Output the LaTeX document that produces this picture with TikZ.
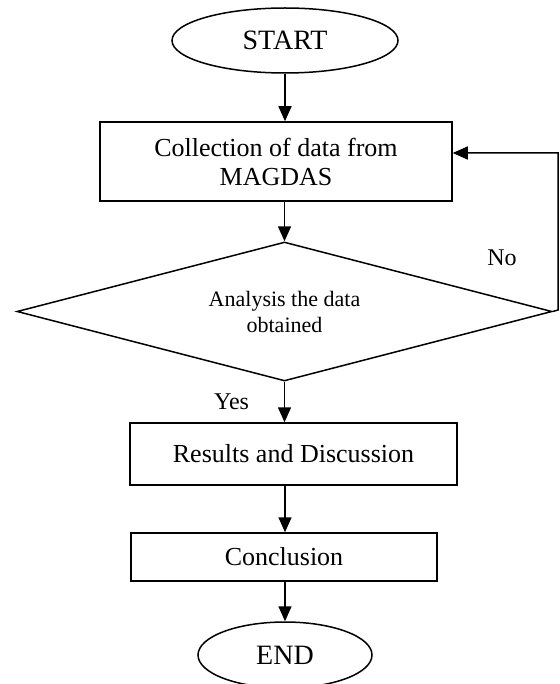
\documentclass[tikz,border=0pt]{standalone}
\usepackage{fontspec}
\setmainfont{Liberation Serif}
\usetikzlibrary{arrows.meta,positioning,shapes.geometric}

\begin{document}
\begin{tikzpicture}[x=0.5pt,y=-0.5pt,line width=0.75pt,>={Triangle[length=7.5pt,width=6.5pt]},
    term/.style={draw,ellipse,inner sep=0pt,font=\fontsize{14}{16}\selectfont},
    proc/.style={draw,rectangle,inner sep=0pt,align=center,font=\fontsize{13}{14.5}\selectfont},
    dec/.style={draw,diamond,inner sep=0pt,align=center,font=\fontsize{11}{13}\selectfont},
    lbl/.style={font=\fontsize{12}{14}\selectfont}]
  \useasboundingbox (0,0) rectangle (559,684);
  \node[term,minimum width=113pt,minimum height=32.5pt] (start) at (285,40.5) {START};
  \node[proc,minimum width=176pt,minimum height=39.5pt] (coll) at (276,161.5) {Collection of data from\\MAGDAS};
  \node[dec,minimum width=267.5pt,minimum height=69.5pt,aspect=3.85] (ana) at (284.5,311.5) {Analysis the data\\obtained};
  \node[proc,minimum width=163.5pt,minimum height=31pt] (res) at (293.5,454) {Results and Discussion};
  \node[proc,minimum width=153pt,minimum height=24pt] (conc) at (284,557) {Conclusion};
  \node[term,minimum width=87pt,minimum height=33pt] (fin) at (285,655) {END};
  \coordinate (loop) at (558,310);
  % main flow
  \draw[->] (start.south) -- (start.south |- coll.north);
  \draw[->] (ana.north |- coll.south) -- (ana.north);
  \draw[->] (ana.south) -- (ana.south |- res.north) node[lbl,pos=0.5,left=14pt] {Yes};
  \draw[->] (fin.north |- res.south) -- (fin.north |- conc.north);
  \draw[->] (fin.north |- conc.south) -- (fin.north);
  % back to collection
  \draw[->] (ana.east) -- (loop) -- (loop |- 0,153) node[lbl,pos=0.33,left=17pt] {No} -- (coll.east |- 0,153);
\end{tikzpicture}
\end{document}
